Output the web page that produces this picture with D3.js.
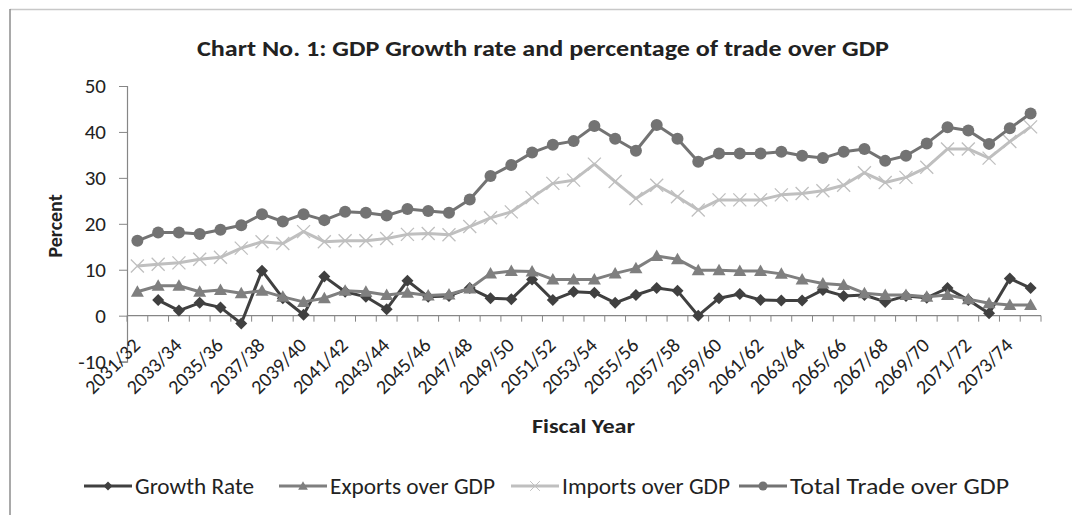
<!DOCTYPE html>
<html>
<head>
<meta charset="utf-8">
<script src="https://cdn.jsdelivr.net/npm/d3@7"></script>
<style>
  body { margin: 0; background: #fff; }
  text { font-family: Carlito, Lato, "Open Sans", sans-serif; fill: #222; }
</style>
</head>
<body>
<div id="chart"></div>
<script>
// fiscal years 2031/32 .. 2074/75
const years = d3.range(2031, 2075).map(y => y + "/" + String((y + 1) % 100).padStart(2, "0"));

const growthRate = [null, 3.4, 1.1, 2.8, 1.8, -1.7, 9.8, 3.8, 0.2, 8.5, 5.2, 4.1, 1.4, 7.6, 4.1,
  4.3, 6.0, 3.8, 3.6, 7.9, 3.4, 5.2, 5.0, 2.8, 4.5, 6.0, 5.4, 0.0, 3.8, 4.7,
  3.4, 3.3, 3.3, 5.6, 4.3, 4.5, 3.0, 4.3, 3.9, 6.0, 3.4, 0.5, 8.1, 6.0];

const exportsGdp = [5.2, 6.5, 6.5, 5.2, 5.6, 4.9, 5.4, 4.1, 3.0, 3.8, 5.4, 5.2, 4.5, 5.0, 4.4,
  4.6, 5.9, 9.2, 9.7, 9.6, 7.9, 7.9, 7.9, 9.2, 10.3, 13.0, 12.3, 9.9, 9.9, 9.7,
  9.7, 9.1, 7.9, 7.0, 6.7, 4.9, 4.5, 4.5, 4.1, 4.5, 3.6, 2.7, 2.3, 2.3];

const importsGdp = [10.8, 11.2, 11.5, 12.3, 12.7, 14.7, 16.1, 15.7, 18.3, 16.1, 16.3, 16.3, 16.8, 17.7, 17.9,
  17.6, 19.4, 21.3, 22.6, 25.7, 28.8, 29.5, 33.0, 29.2, 25.5, 28.4, 25.9, 23.0, 25.2, 25.2,
  25.2, 26.3, 26.6, 27.2, 28.4, 31.1, 29.0, 30.1, 32.3, 36.3, 36.3, 34.3, 37.9, 41.1];

const totalTrade = [16.3, 18.1, 18.1, 17.8, 18.7, 19.7, 22.1, 20.5, 22.1, 20.8, 22.6, 22.4, 21.8, 23.2, 22.8,
  22.4, 25.3, 30.4, 32.8, 35.5, 37.2, 38.0, 41.3, 38.5, 35.9, 41.5, 38.5, 33.5, 35.3, 35.3,
  35.3, 35.7, 34.8, 34.3, 35.7, 36.3, 33.7, 34.8, 37.5, 41.0, 40.3, 37.4, 40.8, 44.0];

const yTicks = [-10, 0, 10, 20, 30, 40, 50];

const series = [
  {name: "Growth Rate", values: growthRate, color: "#404040", marker: "diamond"},
  {name: "Exports over GDP", values: exportsGdp, color: "#7f7f7f", marker: "triangle"},
  {name: "Imports over GDP", values: importsGdp, color: "#bfbfbf", marker: "cross"},
  {name: "Total Trade over GDP", values: totalTrade, color: "#737373", marker: "circle"}
];

const width = 1072, height = 515;
const svg = d3.select("#chart").append("svg")
  .attr("width", width)
  .attr("height", height);

// chart frame
svg.append("line").attr("x1", 10).attr("x2", width).attr("y1", 9.5).attr("y2", 9.5)
  .attr("stroke", "#c8c8c8").attr("stroke-width", 1.5);
svg.append("line").attr("x1", 10).attr("x2", 10).attr("y1", 9).attr("y2", height)
  .attr("stroke", "#8c8c8c").attr("stroke-width", 1.5);

// title
svg.append("text")
  .attr("x", 197).attr("y", 56)
  .attr("font-size", 23).attr("font-weight", "bold")
  .attr("textLength", 692).attr("lengthAdjust", "spacingAndGlyphs")
  .text("Chart No. 1: GDP Growth rate and percentage of trade over GDP");

// scales
const x = d3.scaleBand().domain(years).range([127, 1041]);
const y = d3.scaleLinear().domain([-10, 50]).range([361.6, 86]);

// y axis
const yAxis = svg.append("g")
  .attr("transform", "translate(127,0)")
  .call(d3.axisLeft(y).tickValues(yTicks).tickSize(8).tickPadding(13).tickFormat(d => String(d)));
yAxis.select(".domain").attr("stroke", "#868686").attr("stroke-width", 1.2);
yAxis.selectAll(".tick line").attr("stroke", "#868686");
yAxis.selectAll(".tick text")
  .attr("font-size", 21).attr("fill", "#222")
  .attr("font-family", "Carlito, Lato, 'Open Sans', sans-serif");

// x axis along zero line
const xg = svg.append("g");
xg.append("line")
  .attr("x1", 127).attr("x2", 1041)
  .attr("y1", y(0)).attr("y2", y(0))
  .attr("stroke", "#868686").attr("stroke-width", 1.2);
xg.selectAll(".xtick")
  .data(years.concat(["end"]))
  .enter().append("line")
  .attr("class", "xtick")
  .attr("x1", (d, i) => 127 + i * x.step())
  .attr("x2", (d, i) => 127 + i * x.step())
  .attr("y1", y(0)).attr("y2", y(0) + 6)
  .attr("stroke", "#868686");

xg.selectAll(".xlab")
  .data(years.filter((d, i) => i % 2 === 0))
  .enter().append("text")
  .attr("class", "xlab")
  .attr("transform", d => "translate(" + (x(d) + x.bandwidth() / 2 + 4) + "," + (y(0) + 31) + ") rotate(-45)")
  .attr("text-anchor", "end")
  .attr("font-size", 20)
  .text(d => d);

// axis titles
svg.append("text")
  .attr("transform", "translate(62,226) rotate(-90)")
  .attr("text-anchor", "middle")
  .attr("font-size", 20).attr("font-weight", "bold")
  .text("Percent");

svg.append("text")
  .attr("x", 532).attr("y", 433)
  .attr("font-size", 20).attr("font-weight", "bold")
  .attr("textLength", 103).attr("lengthAdjust", "spacingAndGlyphs")
  .text("Fiscal Year");

// markers
function drawMarker(g, type, color) {
  if (type === "diamond") {
    g.append("path").attr("d", "M0,-6L6,0L0,6L-6,0Z").attr("fill", color);
  } else if (type === "triangle") {
    g.append("path").attr("d", "M0,-6.5L6.5,5L-6.5,5Z").attr("fill", color);
  } else if (type === "cross") {
    g.append("path").attr("d", "M-6.5,-6.5L6.5,6.5M-6.5,6.5L6.5,-6.5")
      .attr("stroke", color).attr("stroke-width", 1.3).attr("fill", "none");
  } else {
    g.append("circle").attr("r", 6).attr("fill", color);
  }
}

const cx = d => x(d) + x.bandwidth() / 2;

const line = d3.line()
  .defined(d => d[1] !== null)
  .x(d => cx(d[0]))
  .y(d => y(d[1]));

series.forEach(s => {
  const pts = years.map((yr, i) => [yr, s.values[i]]);
  svg.append("path")
    .datum(pts)
    .attr("fill", "none")
    .attr("stroke", s.color)
    .attr("stroke-width", 3)
    .attr("stroke-linejoin", "round")
    .attr("d", line);
  pts.filter(p => p[1] !== null).forEach(p => {
    const g = svg.append("g").attr("transform", "translate(" + cx(p[0]) + "," + y(p[1]) + ")");
    drawMarker(g, s.marker, s.color);
  });
});

// legend
const legendX = [84, 279, 511, 739];
const legendW = [119, 165, 168, 219];
series.forEach((s, i) => {
  const g = svg.append("g").attr("transform", "translate(" + legendX[i] + ",486)");
  g.append("line").attr("x1", 0).attr("x2", 48).attr("y1", 0).attr("y2", 0)
    .attr("stroke", s.color).attr("stroke-width", 3);
  const m = g.append("g").attr("transform", "translate(24,0) scale(0.75)");
  drawMarker(m, s.marker, s.color);
  g.append("text").attr("x", 51).attr("y", 0).attr("dy", "0.36em")
    .attr("font-size", 22)
    .attr("textLength", legendW[i]).attr("lengthAdjust", "spacingAndGlyphs")
    .text(s.name);
});
</script>
</body>
</html>
